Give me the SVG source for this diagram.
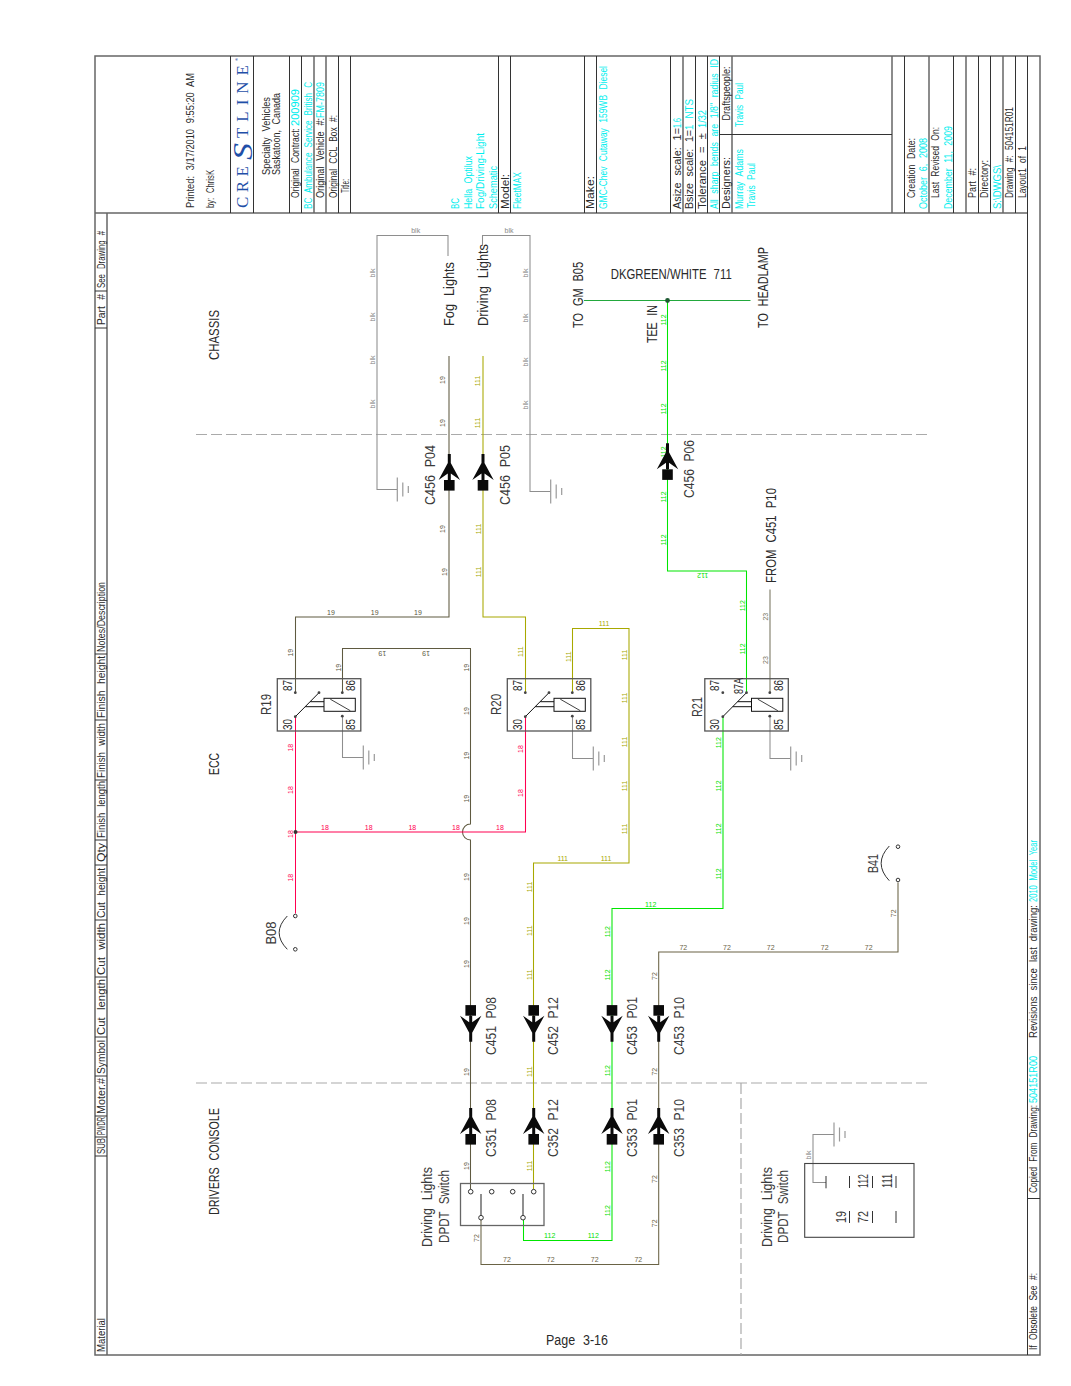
<svg xmlns="http://www.w3.org/2000/svg" xmlns:xlink="http://www.w3.org/1999/xlink" width="1071" height="1386" viewBox="0 0 1071 1386">
<style>
text{font-family:"Liberation Sans",Arial,sans-serif;fill:#2a2a2a;word-spacing:.35em}
.b{font-size:10.5px}
.c{fill:#00eeee}
.big{font-size:15.5px;fill:#3a3a3a}
.hd{font-size:10px}
.frame line,.frame rect{stroke:#333;stroke-width:1;fill:none}
.frame .g{stroke:#666;stroke-width:1.5}
.dash{stroke:#aaa;stroke-width:1.2;stroke-dasharray:11 4;fill:none}
.w{fill:none;stroke-width:1.05}
.wl text{font-size:7px;text-anchor:middle}
.w19{stroke:#5f5a40}.w111{stroke:#a8a800}.w112{stroke:#00e600}.w18{stroke:#ff0050}.w72{stroke:#6a6345}.wb{stroke:#8e8e8e}.w23{stroke:#77745f}.w711{stroke:#22a83c}
.l19 text{fill:#5a5640}.l111 text{fill:#a8a800}.l112 text{fill:#00e000}.l18 text{fill:#ff0050}.l72 text{fill:#6a6345}.lb text{fill:#888}.l23 text{fill:#77745f}
</style>
<defs>
<g id="gnd" stroke="#9a9a9a" stroke-width="1.2" fill="none"><path d="M0-12V12M5.5-7V7M11-3.5V3.5"/></g>
<g id="plug" fill="#0a0a0a"><path d="M-1.5 0H1.5V9L10.7 26L1.5 19.5V26H-1.5V19.5L-10.7 26L-1.5 9Z"/><rect x="-5.3" y="26" width="10.6" height="10.6"/></g>
<g id="relay"><rect width="83.5" height="52.3" fill="none" stroke="#555" stroke-width="1.3"/>
<path d="M18 38L41.7 14M32.8 23H46.7M27.9 28H46.7" stroke="#111" fill="none" stroke-width="1"/>
<rect x="46.7" y="19.6" width="31.3" height="13" fill="#fff" stroke="#111" stroke-width="1"/><path d="M53 20.5L73 32" stroke="#111" stroke-width=".8"/>
<g fill="#444"><circle cx="18" cy="14" r="1.4"/><circle cx="18" cy="38" r="1.4"/><circle cx="65" cy="14" r="1.4"/><circle cx="65" cy="37.5" r="1.4"/><circle cx="41.7" cy="14" r="1.4"/></g></g>
</defs>
<rect width="1071" height="1386" fill="#fff"/>

<g id="title-block" class="frame">
<rect x="95" y="56" width="945" height="1299" class="g"/>
<line x1="95" y1="213" x2="1027" y2="213" class="g"/>
<line x1="107" y1="213" x2="107" y2="1355" class="g"/>
<line x1="1027.5" y1="56" x2="1027.5" y2="1355"/>
<line x1="230.5" y1="56" x2="230.5" y2="213"/><line x1="253.5" y1="56" x2="253.5" y2="213"/><line x1="289.5" y1="56" x2="289.5" y2="213"/><line x1="301.5" y1="56" x2="301.5" y2="213"/><line x1="314" y1="56" x2="314" y2="213" class="g"/><line x1="326" y1="56" x2="326" y2="213" class="g"/><line x1="338.5" y1="56" x2="338.5" y2="213"/><line x1="350.5" y1="56" x2="350.5" y2="213"/>
<line x1="498.5" y1="56" x2="498.5" y2="213"/><line x1="510.5" y1="56" x2="510.5" y2="213"/><line x1="584.5" y1="56" x2="584.5" y2="213"/><line x1="596.5" y1="56" x2="596.5" y2="213"/><line x1="670.5" y1="56" x2="670.5" y2="213"/><line x1="683" y1="56" x2="683" y2="213" class="g"/><line x1="695.5" y1="56" x2="695.5" y2="213"/><line x1="707.5" y1="56" x2="707.5" y2="213"/><line x1="719.5" y1="56" x2="719.5" y2="213"/><line x1="732" y1="56" x2="732" y2="213" class="g"/>
<line x1="892" y1="56" x2="892" y2="213" class="g"/><line x1="904.5" y1="56" x2="904.5" y2="213"/><line x1="929" y1="56" x2="929" y2="213" class="g"/><line x1="953.5" y1="56" x2="953.5" y2="213"/><line x1="966" y1="56" x2="966" y2="213" class="g"/><line x1="978.5" y1="56" x2="978.5" y2="213"/><line x1="990.5" y1="56" x2="990.5" y2="213"/><line x1="1003" y1="56" x2="1003" y2="213" class="g"/><line x1="1015.5" y1="56" x2="1015.5" y2="213"/>
<line x1="720" y1="134.5" x2="892" y2="134.5"/>
<line x1="1027" y1="1198.5" x2="1040" y2="1198.5"/>
<line x1="95" y1="328" x2="107" y2="328"/><line x1="95" y1="291" x2="107" y2="291"/><line x1="95" y1="654" x2="107" y2="654"/><line x1="95" y1="720" x2="107" y2="720"/><line x1="95" y1="780" x2="107" y2="780"/><line x1="95" y1="840" x2="107" y2="840"/><line x1="95" y1="865" x2="107" y2="865"/><line x1="95" y1="920" x2="107" y2="920"/><line x1="95" y1="977" x2="107" y2="977"/><line x1="95" y1="1037" x2="107" y2="1037"/><line x1="95" y1="1076" x2="107" y2="1076"/><line x1="95" y1="1116" x2="107" y2="1116"/><line x1="95" y1="1137" x2="107" y2="1137"/><line x1="95" y1="1156" x2="107" y2="1156"/>

<g class="b">
<text transform="translate(194 208) rotate(-90)" textLength="135" lengthAdjust="spacingAndGlyphs">Printed: 3/17/2010 9:55:20 AM</text>
<text transform="translate(214 208) rotate(-90)" textLength="38" lengthAdjust="spacingAndGlyphs">by: ChrisK</text>
<text transform="translate(269.5 175) rotate(-90)" textLength="78" lengthAdjust="spacingAndGlyphs">Specialty Vehicles</text>
<text transform="translate(280 175) rotate(-90)" textLength="82" lengthAdjust="spacingAndGlyphs">Saskatoon, Canada</text>
<text transform="translate(299 198) rotate(-90)" textLength="70" lengthAdjust="spacingAndGlyphs">Original Contract:</text>
<text class="c" transform="translate(299 126) rotate(-90)" textLength="37" lengthAdjust="spacingAndGlyphs">200909</text>
<text class="c" transform="translate(311.5 209) rotate(-90)" textLength="127" lengthAdjust="spacingAndGlyphs">BC Ambulance Service British C</text>
<text transform="translate(324 198) rotate(-90)" textLength="80" lengthAdjust="spacingAndGlyphs">Original Vehicle #:</text>
<text class="c" transform="translate(324 118) rotate(-90)" textLength="36" lengthAdjust="spacingAndGlyphs">FM-7809</text>
<text transform="translate(337 198) rotate(-90)" textLength="83" lengthAdjust="spacingAndGlyphs">Original CCL Box #:</text>
<text transform="translate(349 193) rotate(-90)" textLength="14" lengthAdjust="spacingAndGlyphs">Title:</text>
<text class="c" transform="translate(459 209) rotate(-90)" textLength="11" lengthAdjust="spacingAndGlyphs">BC</text>
<text class="c" transform="translate(471.5 209) rotate(-90)" textLength="53" lengthAdjust="spacingAndGlyphs">Hella Optilux</text>
<text class="c" transform="translate(484 209) rotate(-90)" textLength="76" lengthAdjust="spacingAndGlyphs">Fog/Driving-Light</text>
<text class="c" transform="translate(496.5 209) rotate(-90)" textLength="43" lengthAdjust="spacingAndGlyphs">Schematic</text>
<text transform="translate(508.5 209) rotate(-90)" textLength="35" lengthAdjust="spacingAndGlyphs">Model:</text>
<text class="c" transform="translate(521 209) rotate(-90)" textLength="37" lengthAdjust="spacingAndGlyphs">FleetMAX</text>
<text transform="translate(594 209) rotate(-90)" textLength="33" lengthAdjust="spacingAndGlyphs">Make:</text>
<text class="c" transform="translate(607 209) rotate(-90)" textLength="143" lengthAdjust="spacingAndGlyphs">GMC-Chev Cutaway 159WB Diesel</text>
<text transform="translate(681 209) rotate(-90)" textLength="81" lengthAdjust="spacingAndGlyphs">Asize scale: 1=</text>
<text class="c" transform="translate(681 128) rotate(-90)" textLength="10" lengthAdjust="spacingAndGlyphs">1.6</text>
<text transform="translate(693 209) rotate(-90)" textLength="79" lengthAdjust="spacingAndGlyphs">Bsize scale: 1=</text>
<text class="c" transform="translate(693 130) rotate(-90)" textLength="31" lengthAdjust="spacingAndGlyphs">1 NTS</text>
<text transform="translate(705.5 209) rotate(-90)" textLength="76" lengthAdjust="spacingAndGlyphs">Tolerance = ±</text>
<text class="c" transform="translate(705.5 128) rotate(-90)" textLength="18" lengthAdjust="spacingAndGlyphs">1/32</text>
<text class="c" transform="translate(717.5 209) rotate(-90)" textLength="150" lengthAdjust="spacingAndGlyphs">All sharp bends are 1/8" radius ID</text>
<text transform="translate(730 120.5) rotate(-90)" textLength="54" lengthAdjust="spacingAndGlyphs">Draftspeople:</text>
<text transform="translate(730 209) rotate(-90)" textLength="52" lengthAdjust="spacingAndGlyphs">Designers:</text>
<text class="c" transform="translate(743 209) rotate(-90)" textLength="60" lengthAdjust="spacingAndGlyphs">Murray Adams</text>
<text class="c" transform="translate(755 208) rotate(-90)" textLength="45" lengthAdjust="spacingAndGlyphs">Travis Paul</text>
<text class="c" transform="translate(743 127) rotate(-90)" textLength="44" lengthAdjust="spacingAndGlyphs">Travis Paul</text>
<text transform="translate(915 198) rotate(-90)" textLength="60" lengthAdjust="spacingAndGlyphs">Creation Date:</text>
<text class="c" transform="translate(926.5 209) rotate(-90)" textLength="71" lengthAdjust="spacingAndGlyphs">October 6, 2008</text>
<text transform="translate(939 198) rotate(-90)" textLength="71" lengthAdjust="spacingAndGlyphs">Last Revised On:</text>
<text class="c" transform="translate(951.5 209) rotate(-90)" textLength="83" lengthAdjust="spacingAndGlyphs">December 11, 2009</text>
<text transform="translate(976 198) rotate(-90)" textLength="30" lengthAdjust="spacingAndGlyphs">Part #:</text>
<text transform="translate(988 198) rotate(-90)" textLength="38" lengthAdjust="spacingAndGlyphs">Directory:</text>
<text class="c" transform="translate(1001 209) rotate(-90)" textLength="44" lengthAdjust="spacingAndGlyphs">S:\DWGS\</text>
<text transform="translate(1013 198) rotate(-90)" textLength="91" lengthAdjust="spacingAndGlyphs">Drawing #: 504151R01</text>
<text transform="translate(1025.5 198) rotate(-90)" textLength="52" lengthAdjust="spacingAndGlyphs">Layout1 of 1</text>
<text transform="translate(1036.5 1350) rotate(-90)" textLength="77" lengthAdjust="spacingAndGlyphs">If Obsolete See #:</text>
<text transform="translate(1036.5 1193) rotate(-90)" textLength="88" lengthAdjust="spacingAndGlyphs">Copied From Drawing:</text>
<text class="c" transform="translate(1036.5 1103) rotate(-90)" textLength="47" lengthAdjust="spacingAndGlyphs">504151R00</text>
<text transform="translate(1036.5 1038) rotate(-90)" textLength="133" lengthAdjust="spacingAndGlyphs">Revisions since last drawing:</text>
<text class="c" transform="translate(1036.5 902) rotate(-90)" textLength="62" lengthAdjust="spacingAndGlyphs">2010 Model Year</text>
</g>
<g class="hd">
<text transform="translate(105 1352) rotate(-90)" textLength="34" lengthAdjust="spacingAndGlyphs">Material</text>
<text transform="translate(105 1154) rotate(-90)" textLength="16" lengthAdjust="spacingAndGlyphs">SUB</text>
<text transform="translate(105 1135) rotate(-90)" textLength="18" lengthAdjust="spacingAndGlyphs">PWDR</text>
<text transform="translate(105 1114) rotate(-90)" textLength="36" lengthAdjust="spacingAndGlyphs">Moter.#</text>
<text transform="translate(105 1074) rotate(-90)" textLength="34" lengthAdjust="spacingAndGlyphs">Symbol</text>
<text transform="translate(105 1035) rotate(-90)" textLength="56" lengthAdjust="spacingAndGlyphs">Cut length</text>
<text transform="translate(105 975) rotate(-90)" textLength="52" lengthAdjust="spacingAndGlyphs">Cut width</text>
<text transform="translate(105 918) rotate(-90)" textLength="50" lengthAdjust="spacingAndGlyphs">Cut height</text>
<text transform="translate(105 862) rotate(-90)" textLength="19" lengthAdjust="spacingAndGlyphs">Qty</text>
<text transform="translate(105 838) rotate(-90)" textLength="57" lengthAdjust="spacingAndGlyphs">Finish length</text>
<text transform="translate(105 778) rotate(-90)" textLength="55" lengthAdjust="spacingAndGlyphs">Finish width</text>
<text transform="translate(105 718) rotate(-90)" textLength="62" lengthAdjust="spacingAndGlyphs">Finish height</text>
<text transform="translate(105 652) rotate(-90)" textLength="70" lengthAdjust="spacingAndGlyphs">Notes/Description</text>
<text transform="translate(105 325) rotate(-90)" textLength="31" lengthAdjust="spacingAndGlyphs">Part #</text>
<text transform="translate(105 288) rotate(-90)" textLength="57" lengthAdjust="spacingAndGlyphs">See Drawing #</text>
</g>
</g>

<g id="logo">
<text transform="translate(248.3 208) rotate(-90)" textLength="42" style="font-family:'Liberation Serif',serif;font-size:17px;fill:#1f4fa8">CRE</text>
<text transform="translate(252 160) rotate(-90)" textLength="17" lengthAdjust="spacingAndGlyphs" style="font-family:'Liberation Serif',serif;font-size:27px;font-style:italic;fill:#1f4fa8">S</text>
<text transform="translate(248.3 138) rotate(-90)" textLength="73" style="font-family:'Liberation Serif',serif;font-size:17px;fill:#1f4fa8">TLINE</text>
<text transform="translate(238 61) rotate(-90)" style="font-size:4px;fill:#1f4fa8">®</text>
</g>

<g id="sections">
<line class="dash" x1="196" y1="434.5" x2="927" y2="434.5"/>
<line class="dash" x1="196" y1="1083" x2="927" y2="1083"/>
<line class="dash" x1="741" y1="1083" x2="741" y2="1355"/>
<g class="big">
<text transform="translate(219 360) rotate(-90)" textLength="50" lengthAdjust="spacingAndGlyphs">CHASSIS</text>
<text transform="translate(219 775) rotate(-90)" textLength="22" lengthAdjust="spacingAndGlyphs">ECC</text>
<text transform="translate(219 1215) rotate(-90)" textLength="107" lengthAdjust="spacingAndGlyphs">DRIVERS CONSOLE</text>
<text transform="translate(454 326) rotate(-90)" textLength="64" lengthAdjust="spacingAndGlyphs">Fog Lights</text>
<text transform="translate(488 326) rotate(-90)" textLength="82" lengthAdjust="spacingAndGlyphs">Driving Lights</text>
<text transform="translate(582.7 328) rotate(-90)" textLength="66" lengthAdjust="spacingAndGlyphs">TO GM B05</text>
<text transform="translate(768 328) rotate(-90)" textLength="81" lengthAdjust="spacingAndGlyphs">TO HEADLAMP</text>
<text x="610.7" y="279" textLength="121" lengthAdjust="spacingAndGlyphs">DKGREEN/WHITE 711</text>
<text transform="translate(656.7 343) rotate(-90)" textLength="38" lengthAdjust="spacingAndGlyphs">TEE IN</text>
<text transform="translate(776 583) rotate(-90)" textLength="95" lengthAdjust="spacingAndGlyphs">FROM C451 P10</text>
<text x="546" y="1345" textLength="62" lengthAdjust="spacingAndGlyphs">Page 3-16</text>
</g>
</g>

<g id="connectors">
<path class="w wb" d="M448 256V235.5H377V489.5H397"/>
<path class="w wb" d="M482.5 246V235.5H530V491.5H550.5"/>
<path class="w wb" d="M342.5 716V757.5H363"/>
<path class="w wb" d="M572.5 716V758.5H593"/>
<path class="w wb" d="M770 716V758.5H790.5"/>
<path class="w wb" d="M834 1134.5H813V1182.5H826"/>
<path class="w w711" d="M584 300.5H750.5"/>
<path class="w w19" d="M449 356V617H295.5V692.7"/>
<path class="w w19" d="M342.5 692.7V648.5H470.5V824A8 8 0 0 0 470.5 840V1189"/>
<path class="w w111" d="M483 356V617H525.5V692.7"/>
<path class="w w111" d="M572.5 692.7V628.5H629V863H533.5V1189"/>
<path class="w w112" d="M667.5 300V571H746.5V692.7"/>
<path class="w w112" d="M723 716.7V908.5H612V1240.5H523.5V1220"/>
<path class="w w18" d="M295.5 716.7V913.5"/>
<path class="w w18" d="M295.5 832H525.5V716.7"/>
<path class="w w23" d="M770 692.7V589.5"/>
<path class="w w72" d="M898 882.5V952H658.7V1264.5H481V1220"/>
<circle cx="667.5" cy="300.5" r="2.4" fill="#1e5a32"/>
<circle cx="295.5" cy="832" r="2" fill="#333"/>

<g class="wl lb">
<text x="415.7" y="233">blk</text><text x="509" y="233">blk</text>
<text transform="translate(375 273) rotate(-90)">blk</text><text transform="translate(375 317) rotate(-90)">blk</text><text transform="translate(375 360) rotate(-90)">blk</text><text transform="translate(375 404) rotate(-90)">blk</text>
<text transform="translate(527.7 273) rotate(-90)">blk</text><text transform="translate(527.7 318) rotate(-90)">blk</text><text transform="translate(527.7 362) rotate(-90)">blk</text><text transform="translate(527.7 405) rotate(-90)">blk</text>
<text transform="translate(811 1155) rotate(-90)">blk</text>
</g>
<g class="wl l19">
<text transform="translate(445 380) rotate(-90)">19</text><text transform="translate(445 423) rotate(-90)">19</text><text transform="translate(445 529) rotate(-90)">19</text><text transform="translate(447 572) rotate(-90)">19</text>
<text x="331" y="615">19</text><text x="374.7" y="615">19</text><text x="418" y="615">19</text>
<text transform="translate(293 652.7) rotate(-90)">19</text><text transform="translate(340.7 667.7) rotate(-90)">19</text>
<text transform="translate(382.3 650.5) rotate(180)">19</text><text transform="translate(426 650.5) rotate(180)">19</text>
<text transform="translate(469 667.7) rotate(-90)">19</text><text transform="translate(469 711) rotate(-90)">19</text><text transform="translate(469 755.7) rotate(-90)">19</text><text transform="translate(469 798.7) rotate(-90)">19</text><text transform="translate(469 877) rotate(-90)">19</text><text transform="translate(469 921) rotate(-90)">19</text><text transform="translate(469 964) rotate(-90)">19</text><text transform="translate(469 1072) rotate(-90)">19</text><text transform="translate(469 1166) rotate(-90)">19</text>
</g>
<g class="wl l111">
<text transform="translate(480 381) rotate(-90)">111</text><text transform="translate(480 423) rotate(-90)">111</text><text transform="translate(481 529) rotate(-90)">111</text><text transform="translate(481 572) rotate(-90)">111</text>
<text transform="translate(523.3 651.7) rotate(-90)">111</text><text transform="translate(570.7 656.7) rotate(-90)">111</text>
<text x="604" y="626">111</text>
<text transform="translate(627.3 655) rotate(-90)">111</text><text transform="translate(627.3 698) rotate(-90)">111</text><text transform="translate(627.3 742) rotate(-90)">111</text><text transform="translate(627.3 786) rotate(-90)">111</text><text transform="translate(627.3 829) rotate(-90)">111</text>
<text x="562.7" y="861">111</text><text x="606" y="861">111</text>
<text transform="translate(531.7 887) rotate(-90)">111</text><text transform="translate(531.7 930.7) rotate(-90)">111</text><text transform="translate(531.7 974.7) rotate(-90)">111</text><text transform="translate(531.7 1071.7) rotate(-90)">111</text><text transform="translate(531.7 1166) rotate(-90)">111</text>
</g>
<g class="wl l112">
<text transform="translate(666 320) rotate(-90)">112</text><text transform="translate(666 366) rotate(-90)">112</text><text transform="translate(666 409) rotate(-90)">112</text><text transform="translate(666 452) rotate(-90)">112</text><text transform="translate(666 497) rotate(-90)">112</text><text transform="translate(666 540) rotate(-90)">112</text>
<text transform="translate(702.7 573) rotate(180)">112</text>
<text transform="translate(745 605.7) rotate(-90)">112</text><text transform="translate(745 649) rotate(-90)">112</text>
<text transform="translate(720.7 742.7) rotate(-90)">112</text><text transform="translate(720.7 786) rotate(-90)">112</text><text transform="translate(720.7 829) rotate(-90)">112</text><text transform="translate(721 874) rotate(-90)">112</text>
<text x="650.7" y="906.7">112</text>
<text transform="translate(610 931.7) rotate(-90)">112</text><text transform="translate(610 975) rotate(-90)">112</text><text transform="translate(610 1070.7) rotate(-90)">112</text><text transform="translate(610 1166.7) rotate(-90)">112</text><text transform="translate(610 1210.7) rotate(-90)">112</text>
<text x="549.7" y="1238">112</text><text x="593.3" y="1238">112</text>
</g>
<g class="wl l18">
<text transform="translate(293 747.7) rotate(-90)">18</text><text transform="translate(293 790) rotate(-90)">18</text><text transform="translate(293 834) rotate(-90)">18</text><text transform="translate(293 877.7) rotate(-90)">18</text>
<text x="325" y="829.5">18</text><text x="368.7" y="829.5">18</text><text x="412.3" y="829.5">18</text><text x="456" y="829.5">18</text><text x="500" y="829.5">18</text>
<text transform="translate(523.3 749) rotate(-90)">18</text><text transform="translate(523.3 793) rotate(-90)">18</text>
</g>
<g class="wl l72">
<text transform="translate(896 913.3) rotate(-90)">72</text>
<text x="683.3" y="950">72</text><text x="727" y="950">72</text><text x="770.7" y="950">72</text><text x="824.7" y="950">72</text><text x="868.7" y="950">72</text>
<text transform="translate(656.7 976) rotate(-90)">72</text><text transform="translate(656.7 1071.7) rotate(-90)">72</text><text transform="translate(656.7 1179) rotate(-90)">72</text><text transform="translate(656.7 1223.3) rotate(-90)">72</text>
<text transform="translate(479 1238) rotate(-90)">72</text>
<text x="507" y="1262.3">72</text><text x="550.7" y="1262.3">72</text><text x="594.7" y="1262.3">72</text><text x="638.3" y="1262.3">72</text>
</g>
<g class="wl l23"><text transform="translate(768 616.7) rotate(-90)">23</text><text transform="translate(768 660) rotate(-90)">23</text></g>
</g>

<g id="grounds">
<use xlink:href="#gnd" href="#gnd" x="397.3" y="489.5"/>
<use xlink:href="#gnd" href="#gnd" x="550.7" y="491.5"/>
<use xlink:href="#gnd" href="#gnd" x="363.3" y="757.5"/>
<use xlink:href="#gnd" href="#gnd" x="593.3" y="758.5"/>
<use xlink:href="#gnd" href="#gnd" x="790.7" y="758.5"/>
<use xlink:href="#gnd" href="#gnd" x="834" y="1134.5"/>
</g>

<g id="R19"><use href="#relay" xlink:href="#relay" x="277.3" y="678.7"/>
<text class="big" transform="translate(271 715) rotate(-90)" textLength="21" lengthAdjust="spacingAndGlyphs">R19</text>
<g style="font-size:12px"><text transform="translate(291.7 691) rotate(-90)" textLength="11" lengthAdjust="spacingAndGlyphs">87</text><text transform="translate(291.7 730) rotate(-90)" textLength="11" lengthAdjust="spacingAndGlyphs">30</text><text transform="translate(355 691) rotate(-90)" textLength="11" lengthAdjust="spacingAndGlyphs">86</text><text transform="translate(355 730) rotate(-90)" textLength="11" lengthAdjust="spacingAndGlyphs">85</text></g></g>
<g id="R20"><use href="#relay" xlink:href="#relay" x="507.3" y="678.7"/>
<text class="big" transform="translate(500.7 715) rotate(-90)" textLength="21" lengthAdjust="spacingAndGlyphs">R20</text>
<g style="font-size:12px"><text transform="translate(521.7 691) rotate(-90)" textLength="11" lengthAdjust="spacingAndGlyphs">87</text><text transform="translate(521.7 730) rotate(-90)" textLength="11" lengthAdjust="spacingAndGlyphs">30</text><text transform="translate(585 691) rotate(-90)" textLength="11" lengthAdjust="spacingAndGlyphs">86</text><text transform="translate(585 730) rotate(-90)" textLength="11" lengthAdjust="spacingAndGlyphs">85</text></g></g>
<g id="R21"><use href="#relay" xlink:href="#relay" x="704.8" y="678.7"/>
<text class="big" transform="translate(702.3 717) rotate(-90)" textLength="20" lengthAdjust="spacingAndGlyphs">R21</text>
<g style="font-size:12px"><text transform="translate(719.2 691) rotate(-90)" textLength="11" lengthAdjust="spacingAndGlyphs">87</text><text transform="translate(743.3 694) rotate(-90)" textLength="16" lengthAdjust="spacingAndGlyphs">87A</text><text transform="translate(719.2 730) rotate(-90)" textLength="11" lengthAdjust="spacingAndGlyphs">30</text><text transform="translate(782.5 691) rotate(-90)" textLength="11" lengthAdjust="spacingAndGlyphs">86</text><text transform="translate(782.5 730) rotate(-90)" textLength="11" lengthAdjust="spacingAndGlyphs">85</text></g></g>

<g id="B08"><path d="M287.3 916Q271 932.7 287.3 949.3" fill="none" stroke="#333"/><circle cx="295.3" cy="916" r="1.8" fill="#fff" stroke="#333"/><circle cx="295.3" cy="949.3" r="1.8" fill="#fff" stroke="#333"/>
<text class="big" transform="translate(275.7 944.5) rotate(-90)" textLength="23" lengthAdjust="spacingAndGlyphs">B08</text></g>
<g id="B41"><path d="M889.3 880.7Q873 863.3 889.3 846" fill="none" stroke="#333"/><circle cx="898" cy="880" r="1.8" fill="#fff" stroke="#333"/><circle cx="898" cy="846.7" r="1.8" fill="#fff" stroke="#333"/>
<text class="big" transform="translate(878.3 873) rotate(-90)" textLength="19" lengthAdjust="spacingAndGlyphs">B41</text></g>

<g id="C456-P04"><use href="#plug" xlink:href="#plug" x="449.3" y="454"/><text class="big" transform="translate(435 505) rotate(-90)" textLength="60" lengthAdjust="spacingAndGlyphs">C456 P04</text></g>
<g id="C456-P05"><use href="#plug" xlink:href="#plug" x="483" y="454"/><text class="big" transform="translate(510 505) rotate(-90)" textLength="60" lengthAdjust="spacingAndGlyphs">C456 P05</text></g>
<g id="C456-P06"><use href="#plug" xlink:href="#plug" x="667.5" y="443.3"/><text class="big" transform="translate(694 498) rotate(-90)" textLength="58" lengthAdjust="spacingAndGlyphs">C456 P06</text></g>
<g id="C451-P08"><use href="#plug" xlink:href="#plug" transform="translate(470.7 1041.7) scale(1 -1)"/><text class="big" transform="translate(495.7 1055) rotate(-90)" textLength="58" lengthAdjust="spacingAndGlyphs">C451 P08</text></g>
<g id="C452-P12"><use href="#plug" xlink:href="#plug" transform="translate(533.7 1041.7) scale(1 -1)"/><text class="big" transform="translate(558 1055) rotate(-90)" textLength="58" lengthAdjust="spacingAndGlyphs">C452 P12</text></g>
<g id="C453-P01"><use href="#plug" xlink:href="#plug" transform="translate(612 1041.7) scale(1 -1)"/><text class="big" transform="translate(637 1055) rotate(-90)" textLength="58" lengthAdjust="spacingAndGlyphs">C453 P01</text></g>
<g id="C453-P10"><use href="#plug" xlink:href="#plug" transform="translate(658.7 1041.7) scale(1 -1)"/><text class="big" transform="translate(684 1055) rotate(-90)" textLength="58" lengthAdjust="spacingAndGlyphs">C453 P10</text></g>
<g id="C351-P08"><use href="#plug" xlink:href="#plug" x="470.7" y="1108"/><text class="big" transform="translate(496 1157) rotate(-90)" textLength="58" lengthAdjust="spacingAndGlyphs">C351 P08</text></g>
<g id="C352-P12"><use href="#plug" xlink:href="#plug" x="533.7" y="1108"/><text class="big" transform="translate(558 1157) rotate(-90)" textLength="58" lengthAdjust="spacingAndGlyphs">C352 P12</text></g>
<g id="C353-P01"><use href="#plug" xlink:href="#plug" x="612" y="1108"/><text class="big" transform="translate(636.7 1157) rotate(-90)" textLength="58" lengthAdjust="spacingAndGlyphs">C353 P01</text></g>
<g id="C353-P10"><use href="#plug" xlink:href="#plug" x="658.7" y="1108"/><text class="big" transform="translate(684 1157) rotate(-90)" textLength="58" lengthAdjust="spacingAndGlyphs">C353 P10</text></g>

<g id="switch">
<rect x="460.5" y="1183.5" width="83.5" height="42" fill="none" stroke="#666" stroke-width="1.3"/>
<path d="M481 1194V1215M523 1194V1215" stroke="#555" stroke-width="1.3" fill="none"/>
<g fill="#fff" stroke="#333"><circle cx="470.7" cy="1191.7" r="2.3"/><circle cx="491.7" cy="1191.7" r="2.3"/><circle cx="512.7" cy="1191.7" r="2.3"/><circle cx="533.7" cy="1191.7" r="2.3"/><circle cx="481" cy="1217.7" r="2.3"/><circle cx="523" cy="1217.7" r="2.3"/></g>
<text class="big" transform="translate(431.7 1247) rotate(-90)" textLength="80" lengthAdjust="spacingAndGlyphs">Driving Lights</text>
<text class="big" transform="translate(449 1243) rotate(-90)" textLength="73" lengthAdjust="spacingAndGlyphs">DPDT Switch</text>
</g>
<g id="switch-table">
<rect x="804.7" y="1163.5" width="109.3" height="73.8" fill="none" stroke="#444" stroke-width="1.1"/>
<path d="M826 1176V1188.3M849.5 1176V1188M872.5 1176V1188M896 1176V1188M849.5 1211V1223M872.5 1211V1223M896 1211V1223" stroke="#333" fill="none"/>
<text class="big" transform="translate(846 1223) rotate(-90)" textLength="12" lengthAdjust="spacingAndGlyphs">19</text>
<text class="big" transform="translate(868.3 1223) rotate(-90)" textLength="12" lengthAdjust="spacingAndGlyphs">72</text>
<text class="big" transform="translate(868.3 1188) rotate(-90)" textLength="14" lengthAdjust="spacingAndGlyphs">112</text>
<text class="big" transform="translate(891.7 1188) rotate(-90)" textLength="14" lengthAdjust="spacingAndGlyphs">111</text>
<text class="big" transform="translate(771.7 1247) rotate(-90)" textLength="80" lengthAdjust="spacingAndGlyphs">Driving Lights</text>
<text class="big" transform="translate(788 1243) rotate(-90)" textLength="73" lengthAdjust="spacingAndGlyphs">DPDT Switch</text>
</g>
</svg>
